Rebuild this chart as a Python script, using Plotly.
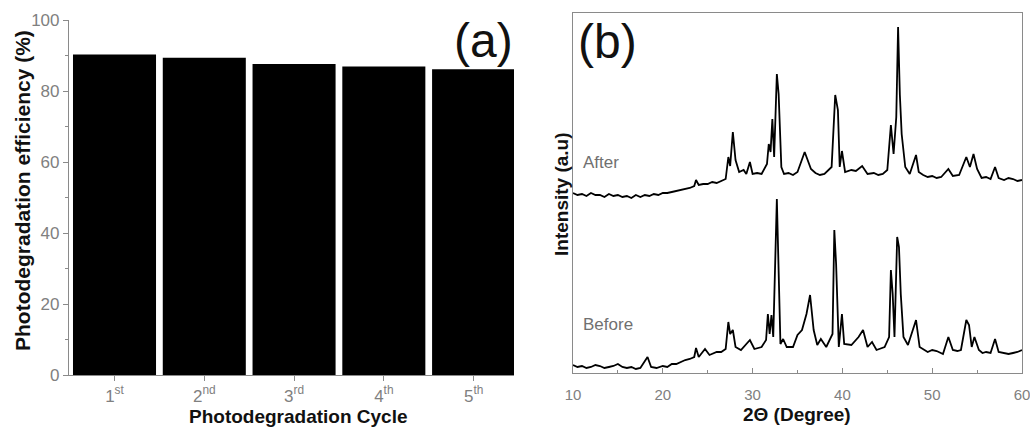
import plotly.graph_objects as go

W, H = 1030, 428

# ---------------- data ----------------
cycles = ["1<sup>st</sup>", "2<sup>nd</sup>", "3<sup>rd</sup>", "4<sup>th</sup>", "5<sup>th</sup>"]
efficiency = [90.3, 89.4, 87.6, 86.9, 86.1]

after_2theta = [10, 10.5, 11, 11.5, 12, 12.5, 13, 13.5, 14, 14.5, 15, 15.5, 16, 16.5, 17, 17.5, 18, 18.5,
                19, 19.5, 20, 20.5, 21, 21.5, 22, 22.5, 23, 23.5, 23.7, 24, 24.5, 25, 25.5, 26, 26.5, 27,
                27.3, 27.5, 27.8, 28.1, 28.5, 29, 29.3, 29.7, 30, 30.5, 31, 31.6, 31.8, 32.0, 32.2, 32.4,
                32.7, 32.9, 33.2, 33.5, 34, 34.5, 35, 35.8, 36.5, 37, 37.5, 38, 38.8, 39.2, 39.5, 39.7, 39.95,
                40.3, 41, 41.5, 42.2, 42.8, 43.5, 44, 44.5, 45, 45.4, 45.7, 46.0, 46.2, 46.4, 46.6, 47, 47.5,
                48.2, 48.5, 49, 49.5, 50, 50.5, 51, 51.8, 52.3, 53, 53.8, 54.2, 54.6, 55, 55.5, 56, 56.5, 57.0,
                57.4, 58, 58.5, 59, 59.5, 60]
after_int = [180, 178, 179, 177, 180, 178, 178, 176, 179, 177, 178, 176, 177, 175, 178, 176, 178, 177,
             179, 178, 180, 180, 181, 182, 183, 184, 185, 187, 193, 188, 189, 189, 191, 190, 192, 194,
             216, 207, 241, 213, 201, 203, 199, 211, 199, 200, 199, 209, 229, 221, 254, 216,
             299, 279, 206, 199, 200, 198, 201, 221, 204, 200, 198, 199, 206, 278, 263, 206, 222,
             201, 203, 202, 207, 199, 200, 198, 199, 203, 248, 219, 256, 346, 278, 239, 206, 199,
             218, 201, 198, 196, 197, 195, 196, 204, 197, 198, 216, 206, 219, 204, 195, 196, 194, 206,
             195, 193, 195, 194, 192, 193]

before_2theta = [10, 10.5, 11, 11.5, 12, 12.5, 13, 13.5, 14, 14.5, 15, 15.5, 16, 16.5, 17, 17.5, 18.3, 18.7,
                 19.3, 20, 20.5, 21, 21.5, 22, 22.5, 23, 23.5, 23.7, 24, 24.7,
                 25.2, 26, 26.5, 27, 27.3, 27.5, 27.8, 28.1, 28.7, 29.7, 30.2, 31, 31.5, 31.7, 31.9,
                 32.1, 32.3, 32.7, 32.9, 33.1, 33.4, 33.8, 34.5, 35, 35.5, 36.0, 36.4, 36.8, 37.2,
                 37.6, 38.2, 38.9, 39.1, 39.3, 39.6, 39.95, 40.2, 41, 41.8, 42.3, 42.8, 43.3, 43.8,
                 44.7, 45.2, 45.4, 45.6, 45.8, 46.1, 46.3, 46.5, 46.8, 47.3, 48.2, 48.6, 49.5, 50, 50.5,
                 51.2, 51.8, 52.3, 52.8, 53.2, 53.8, 54.1, 54.4, 54.7, 55.2, 55.6, 56, 56.5, 57.0, 57.4,
                 58, 58.5, 59, 59.5, 60]
before_int = [8, 6, 7, 5, 6, 8, 7, 5, 6, 7, 9, 6, 5, 6, 4, 5, 16, 6,
              5, 7, 6, 9, 9, 11, 13, 14, 16, 25, 16, 24,
              18, 21, 21, 24, 51, 39, 43, 26, 23, 33, 24, 26, 33, 59, 39,
              58, 36, 174, 83, 29, 34, 26, 26, 38, 43, 59, 78, 43, 28,
              34, 26, 39, 143, 109, 26, 59, 29, 28, 36, 43, 26, 31, 23,
              26, 36, 103, 79, 36, 136, 126, 79, 36, 28, 53, 26, 21, 23, 22,
              19, 36, 23, 22, 23, 53, 48, 26, 36, 23, 20, 21, 20, 34, 21,
              20, 19, 20, 21, 23]

# ---------------- layout helpers ----------------
def px(x):
    return x / W


def py(y):
    return 1 - y / H


fig = go.Figure()

fig.add_trace(go.Bar(
    x=list(range(len(efficiency))), y=efficiency, width=0.925,
    marker=dict(color="black", line=dict(width=0)),
    xaxis="x", yaxis="y", showlegend=False,
))

for xs, ys in ((after_2theta, after_int), (before_2theta, before_int)):
    fig.add_trace(go.Scatter(
        x=xs, y=ys, mode="lines",
        line=dict(color="black", width=1.8), xaxis="x2", yaxis="y2", showlegend=False,
    ))

FAM = "Liberation Sans, Arial"
tick_font_l = dict(family=FAM, size=17, color="#808080")
tick_font_r = dict(family=FAM, size=15, color="#808080")
axis_col = "#8a8a8a"

fig.update_layout(
    width=W, height=H, autosize=False,
    margin=dict(l=0, r=0, t=0, b=0),
    paper_bgcolor="white", plot_bgcolor="white",
    xaxis=dict(
        domain=[px(69), px(514)], range=[-0.507, 4.45], automargin=False,
        tickvals=list(range(len(cycles))), ticktext=cycles,
        ticks="outside", ticklen=5, tickcolor=axis_col,
        showline=True, linecolor=axis_col, linewidth=1.2,
        showgrid=False, zeroline=False, tickfont=tick_font_l,
    ),
    yaxis=dict(
        domain=[py(375), py(20)], range=[0, 100], automargin=False,
        tickvals=[0, 20, 40, 60, 80, 100],
        ticks="outside", ticklen=5, tickcolor=axis_col,
        minor=dict(tickvals=[10, 30, 50, 70, 90], ticks="outside", ticklen=3, tickcolor=axis_col),
        showline=True, linecolor=axis_col, linewidth=1.2,
        showgrid=False, zeroline=False, tickfont=tick_font_l,
    ),
    xaxis2=dict(
        domain=[px(573), px(1022)], range=[10, 60], anchor="y2", automargin=False,
        tickvals=[10, 20, 30, 40, 50, 60],
        ticks="inside", ticklen=5, tickcolor=axis_col,
        minor=dict(tickvals=[15, 25, 35, 45, 55], ticks="inside", ticklen=3, tickcolor=axis_col),
        showline=True, mirror=True, linecolor=axis_col, linewidth=1.2,
        showgrid=False, zeroline=False, tickfont=tick_font_r,
        ticklabeloverflow="allow", ticklabelstandoff=8,
    ),
    yaxis2=dict(
        domain=[py(373), py(13)], range=[0, 360], anchor="x2", automargin=False,
        showticklabels=False, ticks="",
        showline=True, mirror=True, linecolor=axis_col, linewidth=1.2,
        showgrid=False, zeroline=False,
    ),
)

dark = "#111111"
ann = [
    dict(text="<b>Photodegradation efficiency (%)</b>", x=px(22), y=py(191), textangle=-90,
         font=dict(family=FAM, size=21, color=dark)),
    dict(text="<b>Photodegradation Cycle</b>", x=px(298), y=py(416),
         font=dict(family=FAM, size=19, color=dark)),
    dict(text="<b>Intensity (a.u)</b>", x=px(561), y=py(194), textangle=-90,
         font=dict(family=FAM, size=19, color=dark)),
    dict(text="<b>2Θ (Degree)</b>", x=px(797), y=py(414),
         font=dict(family=FAM, size=19, color=dark)),
    dict(text="(a)", x=px(483), y=py(40), font=dict(family=FAM, size=48, color=dark)),
    dict(text="(b)", x=px(607), y=py(41), font=dict(family=FAM, size=48, color=dark)),
    dict(text="After", x=px(581), y=py(162), xanchor="left",
         font=dict(family=FAM, size=17, color="#707070")),
    dict(text="Before", x=px(581), y=py(324), xanchor="left",
         font=dict(family=FAM, size=17, color="#707070")),
]
for a in ann:
    a.setdefault("xanchor", "center")
    a.update(xref="paper", yref="paper", yanchor="middle", showarrow=False)
fig.update_layout(annotations=ann)

fig.write_html("out.html")
